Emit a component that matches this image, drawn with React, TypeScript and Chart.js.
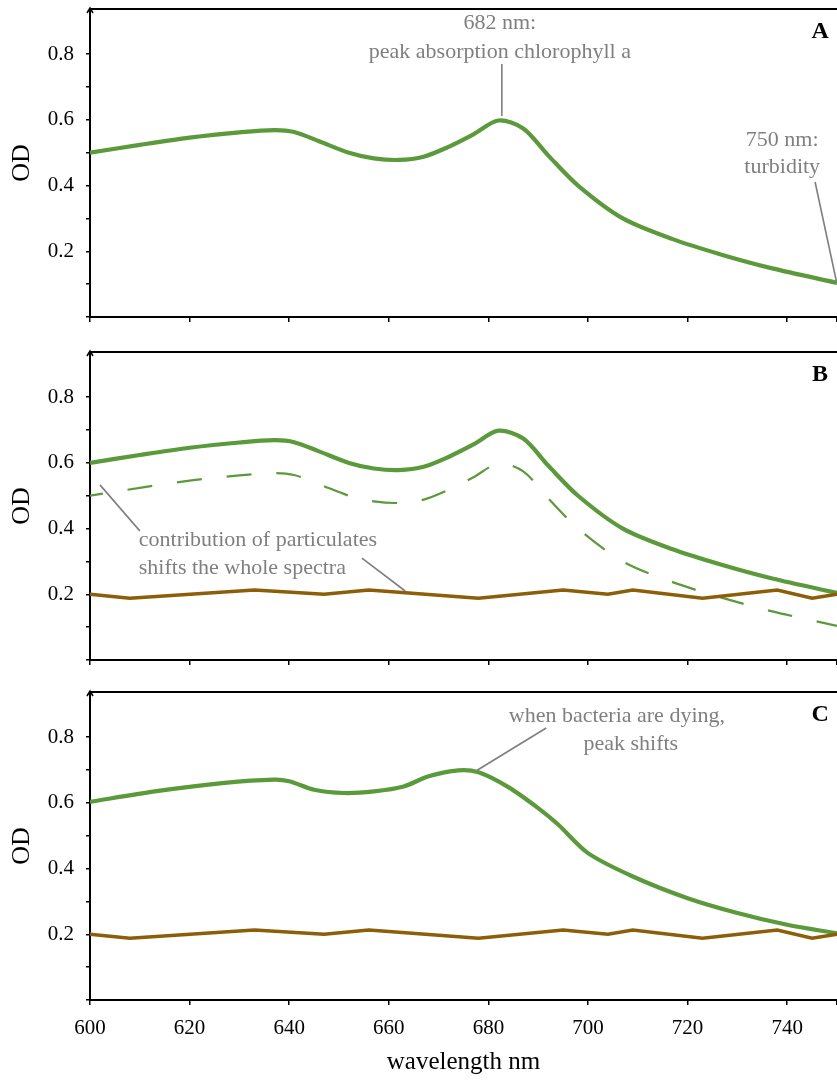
import { useEffect, useRef } from 'react';
import { Chart, registerables } from 'chart.js';

Chart.register(...registerables);

const SERIF = '"Liberation Serif", "Times New Roman", Times, serif';
const GREEN = '#5a9a3a';
const BROWN = '#8c5e08';
const NOTE_GRAY = '#7f7f7f';

// Healthy culture spectrum (panel A; dashed reference in panel B)
const wavelengthsClean = [600, 610, 620, 630, 637, 641, 646, 652, 657, 662, 667, 672, 677, 682, 687, 692, 698, 707, 717, 727, 737, 750];
const odClean = [0.5, 0.524, 0.546, 0.562, 0.569, 0.563, 0.535, 0.5, 0.483, 0.478, 0.488, 0.518, 0.556, 0.598, 0.574, 0.492, 0.4, 0.3, 0.237, 0.189, 0.148, 0.104];

// Same culture measured with particulates present (panel B, solid)
const odTurbid = [0.6, 0.624, 0.646, 0.662, 0.669, 0.663, 0.635, 0.6, 0.583, 0.578, 0.588, 0.618, 0.656, 0.698, 0.674, 0.592, 0.5, 0.4, 0.337, 0.289, 0.248, 0.204];

// Dying culture: chlorophyll peak moved to shorter wavelengths (panel C)
const wavelengthsDying = [600, 613, 627, 637, 640, 645, 651, 657, 663, 668, 674, 678, 684, 690, 694, 700, 709, 720, 730, 740, 750];
const odDying = [0.603, 0.635, 0.661, 0.671, 0.666, 0.64, 0.63, 0.635, 0.65, 0.681, 0.699, 0.693, 0.648, 0.584, 0.534, 0.447, 0.376, 0.31, 0.265, 0.229, 0.203];

// Particulate background (panels B and C)
const wavelengthsParticulate = [600, 608, 633, 647, 656, 678, 695, 704, 709, 723, 738, 745, 750];
const odParticulate = [0.2, 0.188, 0.213, 0.2, 0.213, 0.188, 0.213, 0.2, 0.213, 0.188, 0.213, 0.188, 0.2];

// Axis ticks
const xTickValues = [600, 620, 640, 660, 680, 700, 720, 740, 750];
const xTickLabels = ['600', '620', '640', '660', '680', '700', '720', '740', ''];
const yTickValues = [0, 0.1, 0.2, 0.3, 0.4, 0.5, 0.6, 0.7, 0.8];
const yTickLabels = ['', '', '0.2', '', '0.4', '', '0.6', '', '0.8'];
const Y_MAX = 0.9375;

type Note =
  | { kind: 'text'; x: number; y: number; text: string; align?: CanvasTextAlign; bold?: boolean }
  | { kind: 'line'; x1: number; y1: number; x2: number; y2: number };

const toPoints = (xs: number[], ys: number[]) => xs.map((x, i) => ({ x, y: ys[i] }));

const notesA: Note[] = [
  { kind: 'text', x: 746.6, y: 0.868, text: 'A', bold: true },
  { kind: 'text', x: 682.3, y: 0.893, text: '682 nm:' },
  { kind: 'text', x: 682.3, y: 0.807, text: 'peak absorption chlorophyll a' },
  { kind: 'line', x1: 682.7, y1: 0.77, x2: 682.7, y2: 0.612 },
  { kind: 'text', x: 739.0, y: 0.539, text: '750 nm:' },
  { kind: 'text', x: 739.0, y: 0.455, text: 'turbidity' },
  { kind: 'line', x1: 745.6, y1: 0.411, x2: 749.9, y2: 0.107 },
];

const notesB: Note[] = [
  { kind: 'text', x: 746.6, y: 0.868, text: 'B', bold: true },
  { kind: 'text', x: 609.8, y: 0.365, text: 'contribution of particulates', align: 'left' },
  { kind: 'text', x: 609.8, y: 0.28, text: 'shifts the whole spectra', align: 'left' },
  { kind: 'line', x1: 602.0, y1: 0.533, x2: 610.0, y2: 0.393 },
  { kind: 'line', x1: 654.6, y1: 0.31, x2: 663.3, y2: 0.21 },
];

const notesC: Note[] = [
  { kind: 'text', x: 746.6, y: 0.868, text: 'C', bold: true },
  { kind: 'text', x: 705.8, y: 0.865, text: 'when bacteria are dying,' },
  { kind: 'text', x: 708.6, y: 0.779, text: 'peak shifts' },
  { kind: 'line', x1: 677.5, y1: 0.697, x2: 691.6, y2: 0.828 },
];

function decorPlugin(notes: Note[]) {
  return {
    id: 'panelDecor',
    afterDraw(chart: Chart) {
      const { ctx, chartArea } = chart;
      const xs = chart.scales.x;
      const ys = chart.scales.y;
      ctx.save();
      // top frame line
      ctx.strokeStyle = '#000';
      ctx.lineWidth = 2;
      ctx.beginPath();
      ctx.moveTo(chartArea.left - 1, chartArea.top);
      ctx.lineTo(chartArea.right, chartArea.top);
      ctx.stroke();
      // arrow head on the y axis
      ctx.lineWidth = 1.5;
      ctx.beginPath();
      ctx.moveTo(chartArea.left - 3, chartArea.top + 4);
      ctx.lineTo(chartArea.left, chartArea.top - 1);
      ctx.lineTo(chartArea.left + 3, chartArea.top + 4);
      ctx.stroke();

      for (const n of notes) {
        if (n.kind === 'line') {
          ctx.strokeStyle = NOTE_GRAY;
          ctx.lineWidth = 1.6;
          ctx.beginPath();
          ctx.moveTo(xs.getPixelForValue(n.x1), ys.getPixelForValue(n.y1));
          ctx.lineTo(xs.getPixelForValue(n.x2), ys.getPixelForValue(n.y2));
          ctx.stroke();
        } else {
          ctx.fillStyle = n.bold ? '#000' : NOTE_GRAY;
          ctx.font = n.bold ? `bold 24px ${SERIF}` : `22px ${SERIF}`;
          ctx.textAlign = n.align ?? 'center';
          ctx.textBaseline = 'middle';
          ctx.fillText(n.text, xs.getPixelForValue(n.x), ys.getPixelForValue(n.y));
        }
      }
      ctx.restore();
    },
  };
}

type PanelProps = {
  top: number;
  height: number;
  padTop: number;
  axisHeight: number;
  showX: boolean;
  datasets: any[];
  notes: Note[];
};

function Panel({ top, height, padTop, axisHeight, showX, datasets, notes }: PanelProps) {
  const ref = useRef<HTMLCanvasElement | null>(null);

  useEffect(() => {
    if (!ref.current) return;
    const chart = new Chart(ref.current, {
      type: 'line',
      data: { datasets },
      plugins: [decorPlugin(notes)],
      options: {
        responsive: false,
        animation: false,
        devicePixelRatio: 1,
        layout: { padding: { top: padTop, left: 0, right: 0, bottom: 0 } },
        plugins: { legend: { display: false }, tooltip: { enabled: false } },
        elements: { point: { radius: 0 } },
        scales: {
          x: {
            type: 'linear',
            min: 600,
            max: 750,
            afterBuildTicks: (s: any) => {
              s.ticks = xTickValues.map((value) => ({ value }));
            },
            afterFit: (s: any) => {
              s.height = axisHeight;
              s.paddingLeft = 0;
              s.paddingRight = 0;
            },
            ticks: {
              display: showX,
              autoSkip: false,
              maxRotation: 0,
              padding: 11,
              color: '#000',
              font: { family: SERIF, size: 21 },
              callback: (_v: any, i: number) => xTickLabels[i],
            },
            grid: { drawOnChartArea: false, drawTicks: true, tickLength: 5, color: '#000', lineWidth: 1.5 },
            border: { display: true, color: '#000', width: 2 },
            title: {
              display: showX,
              text: 'wavelength nm',
              color: '#000',
              font: { family: SERIF, size: 25 },
              padding: { top: 0, bottom: 4 },
            },
          },
          y: {
            type: 'linear',
            min: 0,
            max: Y_MAX,
            afterBuildTicks: (s: any) => {
              s.ticks = yTickValues.map((value) => ({ value }));
            },
            afterFit: (s: any) => {
              s.width = 90;
              s.paddingTop = 0;
              s.paddingBottom = 0;
            },
            ticks: {
              autoSkip: false,
              padding: 12,
              color: '#000',
              font: { family: SERIF, size: 21 },
              callback: (_v: any, i: number) => yTickLabels[i],
            },
            grid: { drawOnChartArea: false, drawTicks: true, tickLength: 4, color: '#000', lineWidth: 1.5 },
            border: { display: true, color: '#000', width: 2 },
            title: {
              display: true,
              text: 'OD',
              color: '#000',
              font: { family: SERIF, size: 26 },
              padding: { top: 7, bottom: 0 },
            },
          },
        },
      } as any,
    });
    return () => chart.destroy();
  }, []);

  return (
    <canvas
      ref={ref}
      width={837}
      height={height}
      style={{ position: 'absolute', left: 0, top, width: 837, height, display: 'block' }}
    />
  );
}

const greenLine = (data: { x: number; y: number }[], order: number) => ({
  data,
  borderColor: GREEN,
  borderWidth: 4.2,
  tension: 0.3,
  fill: false,
  order,
});

const particulateLine = () => ({
  data: toPoints(wavelengthsParticulate, odParticulate),
  borderColor: BROWN,
  borderWidth: 3.6,
  tension: 0,
  fill: false,
  order: 0,
});

export default function App() {
  const datasetsA = [greenLine(toPoints(wavelengthsClean, odClean), 1)];
  const datasetsB = [
    greenLine(toPoints(wavelengthsClean, odTurbid), 1),
    {
      data: toPoints(wavelengthsClean, odClean),
      borderColor: GREEN,
      borderWidth: 2.2,
      borderDash: [25, 25],
      borderDashOffset: 12,
      tension: 0.3,
      fill: false,
      order: 2,
    },
    particulateLine(),
  ];
  const datasetsC = [greenLine(toPoints(wavelengthsDying, odDying), 1), particulateLine()];

  return (
    <div style={{ position: 'absolute', left: 0, top: 0, width: 837, height: 1081, background: '#fff' }}>
      <Panel top={0} height={335} padTop={9} axisHeight={18} showX={false} datasets={datasetsA} notes={notesA} />
      <Panel top={335} height={342} padTop={17} axisHeight={17} showX={false} datasets={datasetsB} notes={notesB} />
      <Panel top={675} height={406} padTop={17} axisHeight={81} showX={true} datasets={datasetsC} notes={notesC} />
    </div>
  );
}
